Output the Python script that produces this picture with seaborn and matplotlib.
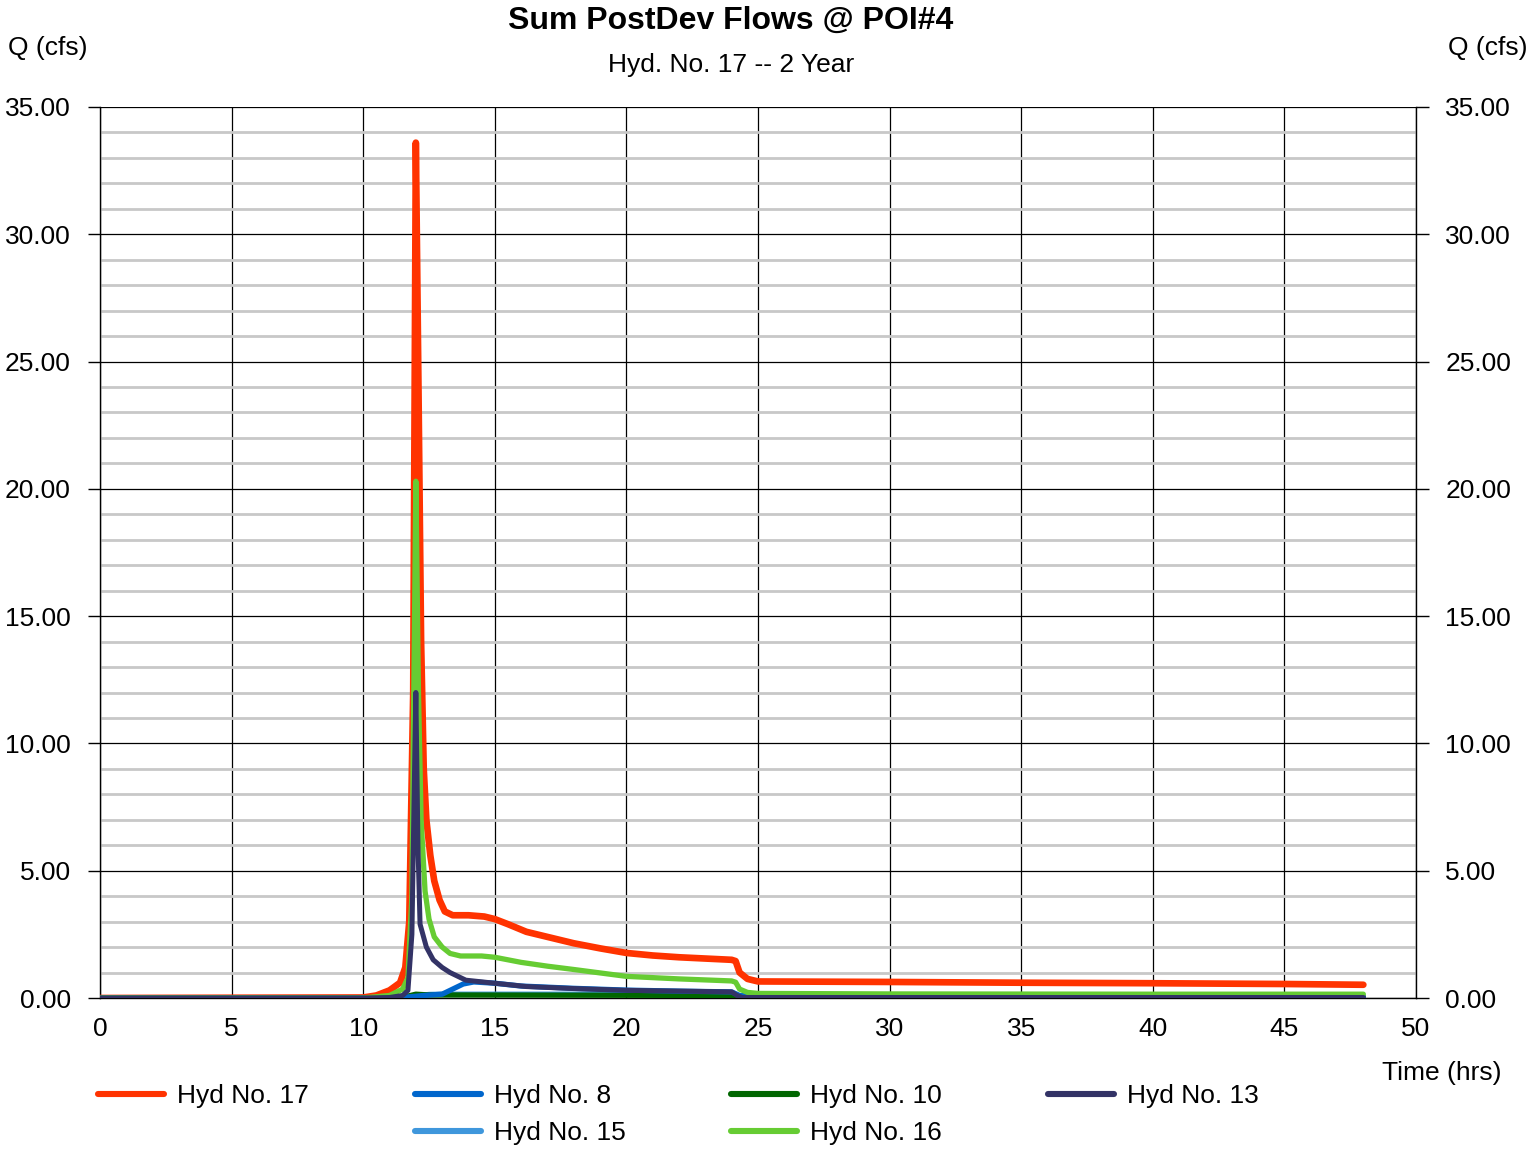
import matplotlib

matplotlib.use("Agg")
import matplotlib.pyplot as plt  # noqa: E402
import pandas as pd  # noqa: E402
import seaborn as sns  # noqa: E402
from matplotlib.lines import Line2D  # noqa: E402
from matplotlib.ticker import FormatStrFormatter, MultipleLocator  # noqa: E402

# --- datos (tiempo en h, caudal en cfs) ---
t17 = [0, 10.0, 10.5, 11.0, 11.4, 11.6, 11.75, 11.9, 12.0, 12.1, 12.2, 12.3, 12.4, 12.55,
       12.7, 12.9, 13.1, 13.4, 14.0, 14.6, 15.0, 15.5, 16.2, 17.0, 18.0, 19.0, 20.0, 21.0,
       22.0, 23.0, 24.0, 24.15, 24.3, 24.6, 25.0, 30.0, 35.0, 40.0, 45.0, 48.0]
q17 = [0, 0.02, 0.1, 0.3, 0.6, 1.2, 3.0, 12.0, 33.6, 24.0, 14.0, 9.0, 7.0, 5.6,
       4.6, 3.85, 3.4, 3.25, 3.25, 3.2, 3.1, 2.9, 2.6, 2.4, 2.15, 1.95, 1.77, 1.67,
       1.6, 1.55, 1.5, 1.45, 1.0, 0.75, 0.65, 0.63, 0.6, 0.58, 0.55, 0.52]

t8 = [0, 11.0, 11.8, 12.3, 13.0, 13.4, 13.8, 14.2, 15.0, 16.0, 18.0, 20.0, 22.0, 24.0,
      24.3, 30.0, 48.0]
q8 = [0, 0, 0.05, 0.1, 0.15, 0.35, 0.55, 0.63, 0.58, 0.47, 0.38, 0.31, 0.27, 0.24,
      0.1, 0.07, 0.05]

t10 = [0, 11.0, 11.6, 12.0, 12.5, 24.0, 24.3, 48.0]
q10 = [0, 0, 0.05, 0.15, 0.12, 0.1, 0.05, 0.04]

t13 = [0, 10.0, 11.0, 11.5, 11.7, 11.85, 12.0, 12.08, 12.16, 12.4, 12.66, 13.0, 13.3,
       13.9, 15.0, 16.2, 18.0, 20.0, 22.0, 24.0, 24.2, 24.4, 30.0, 48.0]
q13 = [0, 0, 0.02, 0.1, 0.3, 2.5, 12.0, 6.0, 2.9, 2.0, 1.5, 1.2, 1.0,
       0.7, 0.58, 0.45, 0.37, 0.3, 0.27, 0.24, 0.1, 0.02, 0.02, 0.02]

t15 = [0, 11.0, 11.5, 12.0, 12.5, 13.0, 24.0, 24.3, 48.0]
q15 = [0, 0, 0.03, 0.08, 0.14, 0.15, 0.15, 0.06, 0.05]

t16 = [0, 10.0, 11.0, 11.5, 11.7, 11.85, 12.0, 12.1, 12.2, 12.35, 12.5, 12.7, 13.0, 13.3,
       13.7, 14.5, 15.0, 16.0, 17.0, 18.0, 20.0, 22.0, 24.0, 24.15, 24.3, 24.6, 25.0,
       30.0, 40.0, 48.0]
q16 = [0, 0.0, 0.1, 0.35, 0.8, 4.0, 20.3, 12.0, 7.0, 4.2, 3.1, 2.4, 2.0, 1.75,
       1.65, 1.65, 1.6, 1.4, 1.25, 1.12, 0.85, 0.75, 0.67, 0.62, 0.35, 0.22, 0.18,
       0.16, 0.15, 0.15]

SERIES = {
    "Hyd No. 17": (t17, q17, "#FF3300", 4.8),
    "Hyd No. 8": (t8, q8, "#0066CC", 3.8),
    "Hyd No. 10": (t10, q10, "#006600", 3.8),
    "Hyd No. 13": (t13, q13, "#333366", 3.6),
    "Hyd No. 15": (t15, q15, "#3F97DC", 3.8),
    "Hyd No. 16": (t16, q16, "#66CC33", 3.8),
}
DRAW_ORDER = ["Hyd No. 17", "Hyd No. 15", "Hyd No. 10", "Hyd No. 8", "Hyd No. 16", "Hyd No. 13"]

FS = 19

sns.set_theme(style="white")
plt.rcParams["font.family"] = ["Liberation Sans", "DejaVu Sans"]
plt.rcParams["text.color"] = "black"
plt.rcParams["xtick.color"] = "black"
plt.rcParams["ytick.color"] = "black"

fig = plt.figure(figsize=(15.33, 11.49), dpi=100)
ax = fig.add_axes([100 / 1533, 1 - 998 / 1149, 1316 / 1533, 891 / 1149])

# rejilla: menor gris cada 1 cfs, mayor negra cada 5
ax.set_xlim(0, 50)
ax.set_ylim(0, 35)
ax.xaxis.set_major_locator(MultipleLocator(5))
ax.yaxis.set_major_locator(MultipleLocator(5))
ax.yaxis.set_minor_locator(MultipleLocator(1))
ax.grid(which="minor", axis="y", color="#C8C8C8", linewidth=2.0, zorder=0)
ax.grid(which="major", axis="both", color="black", linewidth=0.9, zorder=1)
ax.set_axisbelow(True)

for name in DRAW_ORDER:
    t, q, color, lw = SERIES[name]
    df = pd.DataFrame({"t": t, "q": q})
    sns.lineplot(data=df, x="t", y="q", ax=ax, color=color, linewidth=lw,
                 solid_capstyle="round", solid_joinstyle="round", zorder=3)

for side in ["left", "bottom", "right"]:
    ax.spines[side].set_color("black")
    ax.spines[side].set_linewidth(1.0)
ax.spines["top"].set_visible(False)

ax.yaxis.set_major_formatter(FormatStrFormatter("%.2f"))
ax.tick_params(axis="y", which="major", left=True, right=True, labelleft=True,
               labelright=True, direction="out", length=9, width=1.0, color="black",
               labelsize=FS, pad=12)
ax.tick_params(axis="y", which="minor", left=False, right=False)
ax.tick_params(axis="x", which="major", length=0, labelsize=FS, pad=14)
ax.set_xlabel("")
ax.set_ylabel("")

fig.text(731 / 1533, 1 - 21 / 1149, "Sum PostDev Flows @ POI#4", ha="center", va="center",
         fontsize=23, fontweight="bold")
fig.text(731 / 1533, 1 - 65 / 1149, "Hyd. No. 17 -- 2 Year", ha="center", va="center",
         fontsize=FS)
fig.text(8 / 1533, 1 - 48 / 1149, "Q (cfs)", ha="left", va="center", fontsize=FS)
fig.text(1527 / 1533, 1 - 48 / 1149, "Q (cfs)", ha="right", va="center", fontsize=FS)
fig.text(1501 / 1533, 1 - 1073 / 1149, "Time (hrs)", ha="right", va="center", fontsize=FS)

# leyenda en 4 columnas, con hueco bajo "Hyd No. 17"
blank = Line2D([], [], color="none")
order = ["Hyd No. 17", None, "Hyd No. 8", "Hyd No. 15", "Hyd No. 10", "Hyd No. 16", "Hyd No. 13"]
handles, labels = [], []
for name in order:
    if name is None:
        handles.append(blank)
        labels.append("")
    else:
        handles.append(Line2D([], [], color=SERIES[name][2], linewidth=4.4,
                              solid_capstyle="round"))
        labels.append(name)
fig.legend(handles, labels, ncol=4, loc="upper left",
           bbox_to_anchor=(98 / 1533, 1 - 1084 / 1149), frameon=False, fontsize=FS,
           handlelength=2.5, handletextpad=0.5, columnspacing=4.0, labelspacing=0.5,
           borderpad=0, borderaxespad=0)

fig.savefig("out.png", dpi=100, facecolor="white")
